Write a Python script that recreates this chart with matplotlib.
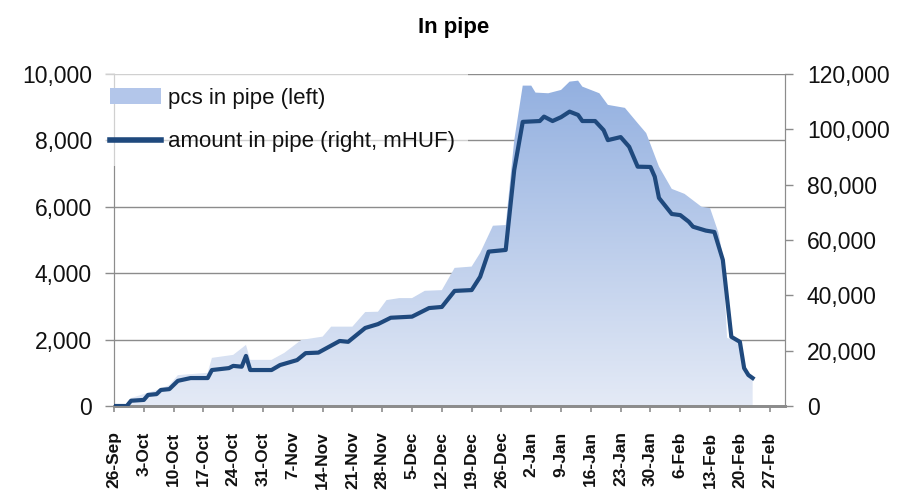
import numpy as np
import matplotlib
matplotlib.use('Agg')
import matplotlib.pyplot as plt
import matplotlib.dates as mdates
from matplotlib.patches import Patch, PathPatch
from matplotlib.lines import Line2D
from matplotlib.colors import LinearSegmentedColormap
from matplotlib.ticker import FuncFormatter, FixedLocator

# ---------------- data ----------------
pcs_dates = ['2010-09-26', '2010-09-29', '2010-09-30', '2010-10-06', '2010-10-09', '2010-10-11',
             '2010-10-18', '2010-10-19', '2010-10-24', '2010-10-27', '2010-10-28', '2010-11-02',
             '2010-11-05', '2010-11-09', '2010-11-14', '2010-11-16', '2010-11-21', '2010-11-24',
             '2010-11-27', '2010-11-29', '2010-12-02', '2010-12-05', '2010-12-08', '2010-12-12',
             '2010-12-15', '2010-12-19', '2010-12-21', '2010-12-24', '2010-12-27', '2010-12-29',
             '2010-12-31', '2011-01-02', '2011-01-03', '2011-01-06', '2011-01-09', '2011-01-11',
             '2011-01-13', '2011-01-14', '2011-01-18', '2011-01-20', '2011-01-24', '2011-01-27',
             '2011-01-29', '2011-02-01', '2011-02-04', '2011-02-07', '2011-02-11', '2011-02-13',
             '2011-02-15', '2011-02-16', '2011-02-17', '2011-02-20', '2011-02-21', '2011-02-22',
             '2011-02-23']
pcs_values = [0, 30, 240, 480, 630, 930,
              1000, 1450, 1540, 1840, 1390, 1390,
              1600, 1990, 2090, 2390, 2390, 2830,
              2840, 3190, 3250, 3250, 3470, 3490,
              4160, 4200, 4610, 5430, 5450, 8000,
              9650, 9650, 9440, 9420, 9520, 9770,
              9800, 9620, 9420, 9070, 8980, 8520,
              8220, 7210, 6540, 6390, 6000, 5960,
              5210, 4500, 2050, 1940, 1140, 930,
              840]

amt_dates = ['2010-09-26', '2010-09-29', '2010-09-30', '2010-10-03', '2010-10-04', '2010-10-06',
             '2010-10-07', '2010-10-09', '2010-10-11', '2010-10-14', '2010-10-18', '2010-10-19',
             '2010-10-23', '2010-10-24', '2010-10-26', '2010-10-27', '2010-10-28', '2010-11-02',
             '2010-11-04', '2010-11-08', '2010-11-10', '2010-11-13', '2010-11-18', '2010-11-20',
             '2010-11-24', '2010-11-27', '2010-11-30', '2010-12-05', '2010-12-09', '2010-12-12',
             '2010-12-15', '2010-12-19', '2010-12-21', '2010-12-23', '2010-12-27', '2010-12-29',
             '2010-12-31', '2011-01-04', '2011-01-05', '2011-01-07', '2011-01-09', '2011-01-11',
             '2011-01-13', '2011-01-14', '2011-01-17', '2011-01-19', '2011-01-20', '2011-01-23',
             '2011-01-25', '2011-01-27', '2011-01-30', '2011-01-31', '2011-02-01', '2011-02-04',
             '2011-02-06', '2011-02-08', '2011-02-09', '2011-02-12', '2011-02-14', '2011-02-16',
             '2011-02-18', '2011-02-20', '2011-02-21', '2011-02-22', '2011-02-23']
amt_values = [0, 0, 1900, 2200, 4000, 4300,
              5800, 6100, 9100, 10100, 10100, 13000,
              13700, 14500, 14200, 18100, 13000, 13000,
              14800, 16600, 19100, 19300, 23500, 23200,
              28200, 29600, 31900, 32300, 35400, 35800,
              41600, 41900, 46700, 55800, 56400, 85300,
              102700, 103000, 104600, 103000, 104400, 106400,
              105200, 103000, 103000, 99700, 96100, 97200,
              93700, 86500, 86400, 82900, 75200, 69400,
              69000, 66600, 64800, 63400, 62900, 52800,
              25000, 23200, 13700, 11200, 10100]

tick_dates = ['2010-09-26', '2010-10-03', '2010-10-10', '2010-10-17', '2010-10-24', '2010-10-31',
              '2010-11-07', '2010-11-14', '2010-11-21', '2010-11-28', '2010-12-05', '2010-12-12',
              '2010-12-19', '2010-12-26', '2011-01-02', '2011-01-09', '2011-01-16', '2011-01-23',
              '2011-01-30', '2011-02-06', '2011-02-13', '2011-02-20', '2011-02-27']
tick_labels = ['26-Sep', '3-Oct', '10-Oct', '17-Oct', '24-Oct', '31-Oct',
               '7-Nov', '14-Nov', '21-Nov', '28-Nov', '5-Dec', '12-Dec',
               '19-Dec', '26-Dec', '2-Jan', '9-Jan', '16-Jan', '23-Jan',
               '30-Jan', '6-Feb', '13-Feb', '20-Feb', '27-Feb']
left_ticks = [0, 2000, 4000, 6000, 8000, 10000]
right_ticks = [0, 20000, 40000, 60000, 80000, 100000, 120000]

title = 'In pipe'
label_pcs = 'pcs in pipe (left)'
label_amt = 'amount in pipe (right, mHUF)'

# ---------------- style ----------------
plt.rcParams['font.family'] = ['Liberation Sans', 'DejaVu Sans']
grid_c = '#8C8C8C'
line_c = '#1F497D'
txt_c = '#111111'

fig = plt.figure(figsize=(9.08, 4.96), dpi=100, facecolor='white')
ax = fig.add_axes([114/908, 1-406/496, (785-114)/908, (406-74)/496])
ax2 = ax.twinx()

xp = mdates.datestr2num(pcs_dates)
xa = mdates.datestr2num(amt_dates)
xt = mdates.datestr2num(tick_dates)
xmin = xt[0]
xmax = xt[0] + 157.6

# gradient-filled area
poly = ax.fill_between(xp, pcs_values, 0, facecolor='none', edgecolor='none', zorder=2)
path = poly.get_paths()[0]
clip = PathPatch(path, transform=ax.transData, facecolor='none', edgecolor='none')
ax.add_patch(clip)
cmap = LinearSegmentedColormap.from_list('g', ['#E4EAF6', '#93B0E0'])
grad = np.linspace(0, 1, 256).reshape(-1, 1)
im = ax.imshow(grad, aspect='auto', cmap=cmap, origin='lower',
               extent=[xmin, xmax, 0, max(pcs_values)], zorder=2, interpolation='bilinear')
im.set_clip_path(clip)

ax.set_xlim(xmin, xmax)
ax.set_ylim(0, 10000)
ax2.set_ylim(0, 120000)
ax2.set_xlim(xmin, xmax)

ax2.plot(xa, amt_values, color=line_c, lw=3.0, solid_joinstyle='round', zorder=3)

# grid
ax.set_axisbelow(True)
ax.yaxis.set_major_locator(FixedLocator(left_ticks))
ax.grid(axis='y', color=grid_c, lw=1.0, zorder=0)
ax2.yaxis.set_major_locator(FixedLocator(right_ticks))

fmt = FuncFormatter(lambda v, p: f'{int(v):,}')
ax.yaxis.set_major_formatter(fmt)
ax2.yaxis.set_major_formatter(fmt)

ax.set_xticks(xt)
ax.set_xticklabels(tick_labels, rotation=90, fontsize=12.5, fontweight='bold', color=txt_c, va='top')
ax.tick_params(axis='x', length=4.3, width=1.2, color=grid_c, pad=14)
ax.tick_params(axis='y', length=6.5, width=1, color=grid_c, pad=9.5, labelsize=16.5, labelcolor=txt_c)
ax2.tick_params(axis='y', length=5.8, width=1, color=grid_c, pad=10, labelsize=16.5, labelcolor=txt_c)

for a in (ax, ax2):
    a.spines['top'].set_visible(False)
    for s in ('left', 'right', 'bottom'):
        a.spines[s].set_color(grid_c)
ax.spines['bottom'].set_linewidth(2)
ax2.spines['bottom'].set_linewidth(2)

fig.text(0.5, 1-27/496, title, ha='center', va='center', fontsize=16, fontweight='bold', color='black')

handles = [Patch(facecolor='#B3C6EA', edgecolor='none'),
           Line2D([0], [0], color=line_c, lw=4)]
leg = ax2.legend(handles, [label_pcs, label_amt], loc='upper left',
                 bbox_to_anchor=(96/908, 1-74/496), bbox_transform=fig.transFigure,
                 fontsize=16, frameon=True, fancybox=False, framealpha=0.6,
                 edgecolor='none', facecolor='white', handlelength=2.3, handleheight=0.7,
                 handletextpad=0.3, labelspacing=1.02, borderpad=0.62, borderaxespad=0)
for t in leg.get_texts():
    t.set_color(txt_c)

fig.savefig('out.png', dpi=100, facecolor='white')
